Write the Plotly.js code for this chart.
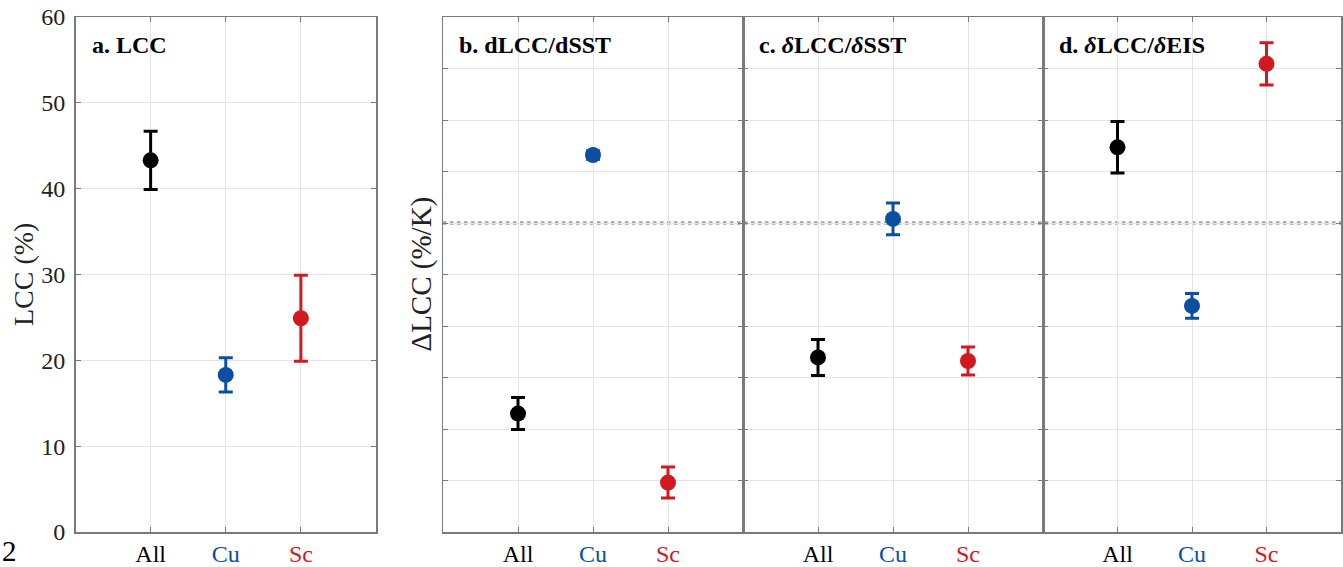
<!DOCTYPE html>
<html>
<head>
<meta charset="utf-8">
<script src="https://cdn.plot.ly/plotly-3.0.1.min.js"></script>
<style>
  html, body { margin: 0; padding: 0; background: #fff; }
  #chart { width: 1343px; height: 567px; }
</style>
</head>
<body>
<div id="chart"></div>
<script>
// ---- data ----
var categories = ['All', 'Cu', 'Sc'];
var categoryColors = ['#000000', '#0b50a0', '#d2191f'];

var panelTitles = ['a. LCC', 'b. dLCC/dSST', 'c. <i>δ</i>LCC/<i>δ</i>SST', 'd. <i>δ</i>LCC/<i>δ</i>EIS'];

var lccMean = [43.3, 18.3, 24.9];
var lccErr  = [3.4, 2.0, 5.0];

var dLccdSstMean = [-3.70, 1.32, -5.04];
var dLccdSstErr  = [0.31, 0.08, 0.30];

var partialSstMean = [-2.61, 0.08, -2.68];
var partialSstErr  = [0.35, 0.31, 0.27];

var partialEisMean = [1.47, -1.61, 3.09];
var partialEisErr  = [0.50, 0.24, 0.41];

// ---- layout helpers ----
var W = 1343;
var TOP = 17, BOTTOM = 532, PH = BOTTOM - TOP;
var domains = [[75.5 / W, 376 / W], [443 / W, 743 / W], [743 / W, 1043 / W], [1043 / W, 1341 / W]];
var fontFam = '"Liberation Serif", "Times New Roman", serif';
var axisColor = '#7a7a7a';
var gridColor = '#e4e4e4';

var panels = [
  {mean: lccMean, err: lccErr},
  {mean: dLccdSstMean, err: dLccdSstErr},
  {mean: partialSstMean, err: partialSstErr},
  {mean: partialEisMean, err: partialEisErr}
];

var traces = [];
panels.forEach(function (p, pi) {
  var xa = pi === 0 ? 'x' : 'x' + (pi + 1);
  var ya = pi === 0 ? 'y' : 'y' + (pi + 1);
  categories.forEach(function (c, ci) {
    traces.push({
      type: 'scatter', mode: 'markers',
      x: [c], y: [p.mean[ci]],
      xaxis: xa, yaxis: ya,
      marker: {color: categoryColors[ci], size: 16},
      error_y: {type: 'data', array: [p.err[ci]], visible: true,
                color: categoryColors[ci], thickness: 3, width: 7},
      showlegend: false, hoverinfo: 'x+y'
    });
  });
});

var tickText = categories.map(function (c, i) {
  return '<span style="color:' + categoryColors[i] + '">' + c + '</span>';
});

function xAxis(d, anchor) {
  return {
    domain: d, anchor: anchor, type: 'category',
    range: [-1, 3], tickvals: categories, ticktext: tickText,
    showline: true, linecolor: axisColor, linewidth: 1.5, mirror: 'ticks',
    ticks: 'inside', ticklen: 5, tickcolor: axisColor, tickwidth: 1,
    showgrid: true, gridcolor: gridColor, gridwidth: 1,
    tickfont: {family: fontFam, size: 24, color: '#000'},
    ticklabelstandoff: 0, zeroline: false, fixedrange: true
  };
}
function yAxis(anchor, range, dtick, showLabels) {
  return {
    anchor: anchor, domain: [0, 1], range: range, dtick: dtick, tick0: 0,
    showline: true, linecolor: axisColor, linewidth: 1.5, mirror: 'ticks',
    ticks: 'inside', ticklen: 5, tickcolor: axisColor, tickwidth: 1,
    showgrid: true, gridcolor: gridColor, gridwidth: 1,
    showticklabels: showLabels,
    tickfont: {family: fontFam, size: 24, color: '#222'},
    ticklabelstandoff: 4, zeroline: false, fixedrange: true
  };
}

var layout = {
  width: 1343, height: 567,
  margin: {l: 0, r: 0, t: TOP, b: 567 - BOTTOM},
  paper_bgcolor: '#ffffff', plot_bgcolor: '#ffffff',
  font: {family: fontFam, color: '#000'},
  showlegend: false,
  xaxis: xAxis(domains[0], 'y'),
  xaxis2: xAxis(domains[1], 'y2'),
  xaxis3: xAxis(domains[2], 'y3'),
  xaxis4: xAxis(domains[3], 'y4'),
  yaxis: yAxis('x', [0, 60], 10, true),
  yaxis2: yAxis('x2', [-6, 4], 1, false),
  yaxis3: yAxis('x3', [-6, 4], 1, false),
  yaxis4: yAxis('x4', [-6, 4], 1, false),
  shapes: [
    {type: 'line', xref: 'paper', yref: 'y2', x0: domains[1][0], x1: domains[3][1], y0: 0, y1: 0,
     line: {color: '#a4a4a4', width: 3.5, dash: 'dot'}, layer: 'below'}
  ],
  annotations: []
};

// panel titles
var titleX = [90, 457, 757, 1057];
panelTitles.forEach(function (t, i) {
  layout.annotations.push({
    text: '<b>' + t + '</b>', xref: 'paper', yref: 'paper',
    x: titleX[i] / W, y: 1 - (45 - TOP) / PH, xanchor: 'left', yanchor: 'middle',
    showarrow: false, font: {family: fontFam, size: 24, color: '#000'}
  });
});
// y titles
layout.annotations.push({
  text: 'LCC (%)', xref: 'paper', yref: 'paper', x: 23 / W, y: 1 - (275 - TOP) / PH,
  textangle: -90, showarrow: false, xanchor: 'center', yanchor: 'middle',
  font: {family: fontFam, size: 28, color: '#222'}
});
layout.annotations.push({
  text: 'ΔLCC (%/K)', xref: 'paper', yref: 'paper', x: 420.5 / W, y: 1 - (274 - TOP) / PH,
  textangle: -90, showarrow: false, xanchor: 'center', yanchor: 'middle',
  font: {family: fontFam, size: 29, color: '#222'}
});
// stray fragment at lower left
layout.annotations.push({
  text: '2', xref: 'paper', yref: 'paper', x: 0, y: -(551 - BOTTOM) / PH,
  showarrow: false, xanchor: 'left', yanchor: 'middle',
  font: {family: fontFam, size: 29, color: '#000'}
});

Plotly.newPlot('chart', traces, layout, {displayModeBar: false, staticPlot: true});
</script>
</body>
</html>
